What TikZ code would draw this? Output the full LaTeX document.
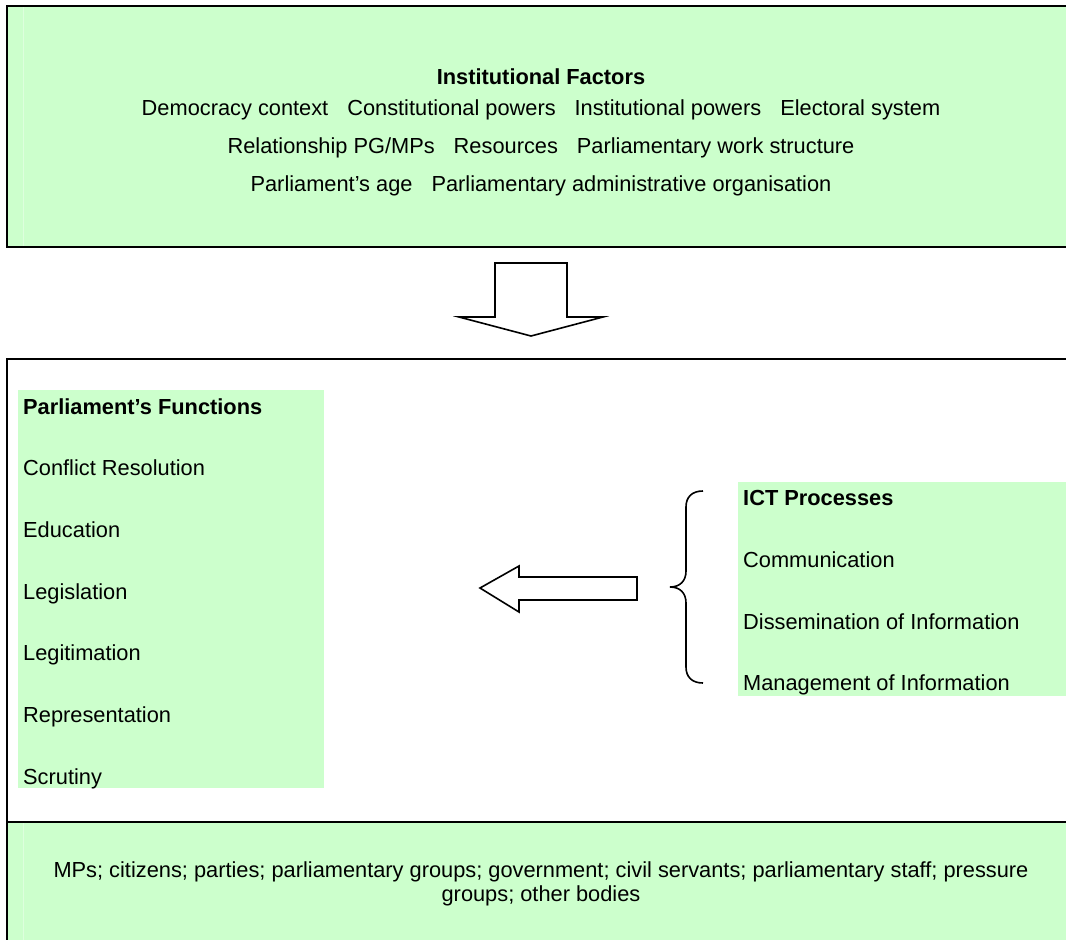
\documentclass[tikz,border=0pt]{standalone}
\usepackage{fontspec}
\setmainfont{Liberation Sans}
\definecolor{lgreen}{HTML}{CCFFCC}
\definecolor{paleline}{HTML}{DDFFDD}
\begin{document}
\begin{tikzpicture}[x=1pt,y=-1pt,
  txt/.style={inner sep=0pt, font=\fontsize{21.8}{25}\selectfont, text height=15.6pt, text depth=0pt},
  boldtxt/.style={txt, font=\fontsize{21.8}{25}\selectfont\bfseries},
  frame/.style={draw=black, line width=2pt},
  greenarea/.style={fill=lgreen},
  blockarrow/.style={draw=black, fill=white, line width=1.6pt, line join=miter},
  bracestyle/.style={draw=black, line width=1.6pt}]
\useasboundingbox (0,0) rectangle (1066,940);
\fill[white] (0,0) rectangle (1066,940);

% top box
\path[greenarea, frame] (7,6) rectangle (1085,247);
\draw[paleline, line width=1pt] (23,7) -- (23,246);
\node[boldtxt] (ifac) at (541,77) {Institutional Factors};
\node[txt] (if1) at (541,108) {Democracy context\hspace{19pt}Constitutional powers\hspace{19pt}Institutional powers\hspace{19pt}Electoral system};
\node[txt] (if2) at (541,146) {Relationship PG/MPs\hspace{19pt}Resources\hspace{19pt}Parliamentary work structure};
\node[txt] (if3) at (541,184) {Parliament’s age\hspace{19pt}Parliamentary administrative organisation};

% down block arrow
\path[blockarrow] (495,263) -- (567,263) -- (567,317) -- (603,317) -- (531,336) -- (459,317) -- (495,317) -- cycle;

% middle box
\path[frame, fill=white] (7,359) rectangle (1085,822);

% parliament's functions
\fill[greenarea] (18,390) rectangle (324,788);
\node[boldtxt, anchor=west] (pf) at (23,407) {Parliament’s Functions};
\node[txt, anchor=west] (f1) at (23,468) {Conflict Resolution};
\node[txt, anchor=west] (f2) at (23,530) {Education};
\node[txt, anchor=west] (f3) at (23,592) {Legislation};
\node[txt, anchor=west] (f4) at (23,653) {Legitimation};
\node[txt, anchor=west] (f5) at (23,715) {Representation};
\node[txt, anchor=west] (f6) at (23,777) {Scrutiny};

% left block arrow
\path[blockarrow] (637,577) -- (519,577) -- (519,566) -- (480,588) -- (519,612) -- (519,600) -- (637,600) -- cycle;

% brace
\path[bracestyle] (703,491) .. controls (692,491) and (686,497) .. (686,507)
  -- (686,571) .. controls (686,581) and (680,587) .. (670,587)
  .. controls (680,587) and (686,593) .. (686,603)
  -- (686,667) .. controls (686,677) and (692,683) .. (703,683);

% ICT processes
\fill[greenarea] (738,482) rectangle (1085,696);
\node[boldtxt, anchor=west] (ict) at (743,498) {ICT Processes};
\node[txt, anchor=west] (p1) at (743,560) {Communication};
\node[txt, anchor=west] (p2) at (743,622) {Dissemination of Information};
\node[txt, anchor=west] (p3) at (743,683) {Management of Information};

% bottom box
\path[greenarea, frame] (7,822) rectangle (1085,960);
\draw[paleline, line width=1pt] (23,823) -- (23,940);
\node[inner sep=0pt, font=\fontsize{21.8}{24}\selectfont, align=center] (actors) at (541,884)
  {MPs; citizens; parties; parliamentary groups; government; civil servants; parliamentary staff; pressure\\groups; other bodies};
\end{tikzpicture}
\end{document}
